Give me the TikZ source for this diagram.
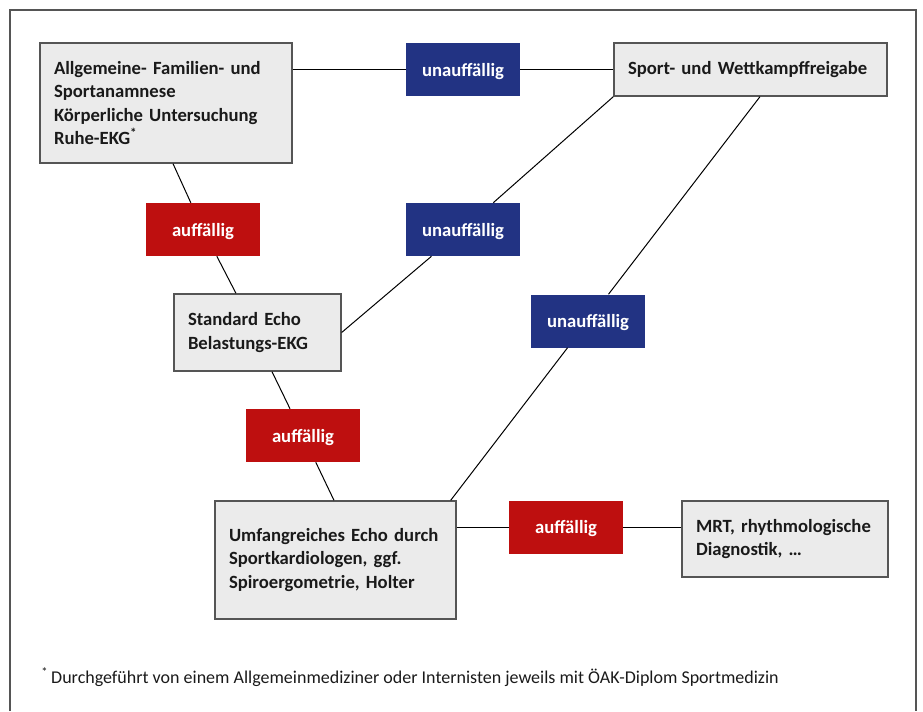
\documentclass[tikz,border=0pt]{standalone}
\usepackage{fontspec}
\setmainfont{Carlito}
\usetikzlibrary{positioning}
\newdimen\px \px=0.75pt
\definecolor{boxgray}{HTML}{EBEBEB}
\definecolor{linegray}{HTML}{555555}
\definecolor{okblue}{HTML}{223383}
\definecolor{badred}{HTML}{BE0F0F}
\definecolor{ink}{HTML}{1A1A1A}

\begin{document}
\begin{tikzpicture}[x=0.75pt,y=-0.75pt,
  stage/.style={draw=linegray, line width=1.3\px, fill=boxgray, text=ink, align=left,
    inner xsep=14\px, inner ysep=0pt, font=\bfseries\fontsize{14}{17.6}\selectfont},
  verdict/.style={minimum width=114\px, minimum height=53\px, inner sep=0pt, text=white,
    text depth=0pt, font=\bfseries\fontsize{14}{17.6}\selectfont},
  ok/.style={verdict, fill=okblue},
  bad/.style={verdict, fill=badred},
  link/.style={draw=black, line width=1\px}]
\useasboundingbox (0,0) rectangle (923,711);
\draw[linegray, line width=1.3\px] (10,711) -- (10,10) -- (916,10) -- (916,711);

\node[stage, text width=224\px, minimum height=120\px] (A) at (166,103) {Allgemeine- Familien- und\\Sportanamnese\\Körperliche Untersuchung\\Ruhe-EKG\textsuperscript{*}};
\node[stage, text width=245\px, minimum height=53\px] (B) at (750.5,69.5) {Sport- und Wettkampffreigabe};
\node[stage, text width=139\px, minimum height=77\px] (C) at (257.5,332.5) {Standard Echo\\Belastungs-EKG};
\node[stage, text width=213\px, minimum height=118\px] (D) at (335.5,560) {Umfangreiches Echo durch\\Sportkardiologen, ggf.\\Spiroergometrie, Holter};
\node[stage, text width=178\px, minimum height=76\px] (E) at (785,539) {MRT, rhythmologische\\Diagnostik, \dots};

\node[ok] (U1) at (463,69.5) {unauffällig};
\node[ok] (U2) at (463,229.5) {unauffällig};
\node[ok] (U3) at (588,321) {unauffällig};
\node[bad] (R1) at (203,229.5) {auffällig};
\node[bad] (R2) at (303,435.5) {auffällig};
\node[bad] (R3) at (566,527) {auffällig};

\path[link] (A.east |- U1) edge (U1)
            (U1) edge (B)
            ([xshift=7\px]A.south) edge (R1)
            (R1) edge ([xshift=-21.5\px]C.north)
            (C.east) edge (U2)
            (U2) edge (B.south west)
            ([xshift=14.5\px]C.south) edge (R2)
            (R2) edge ([xshift=-1.5\px]D.north)
            ([xshift=-6\px]D.north east) edge (U3)
            (U3) edge ([xshift=9.5\px]B.south)
            (D.east |- R3) edge (R3)
            (R3) edge (R3 -| E.west);

\node[anchor=base west, inner sep=0pt, text=ink, font=\fontsize{13.5}{17}\selectfont] (note) at (41,683) {\textsuperscript{*}\,Durchgeführt von einem Allgemeinmediziner oder Internisten jeweils mit ÖAK-Diplom Sportmedizin};
\end{tikzpicture}
\end{document}
